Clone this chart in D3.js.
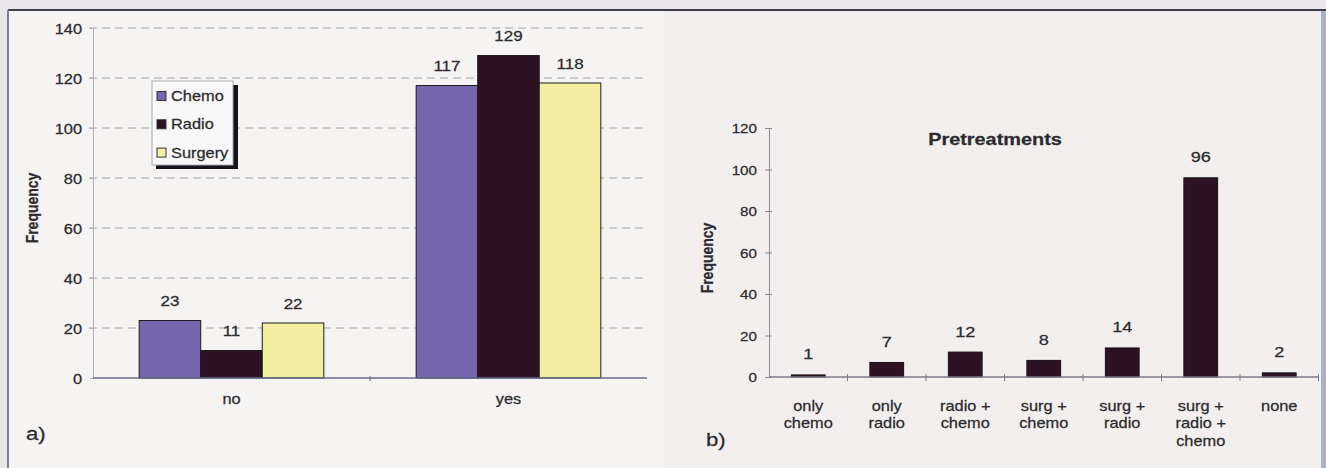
<!DOCTYPE html>
<html>
<head>
<meta charset="utf-8">
<script src="https://cdn.jsdelivr.net/npm/d3@7"></script>
<style>
  html, body { margin: 0; padding: 0; background: #ebe9eb; }
  svg { display: block; }
  text { font-family: "Liberation Sans", Arial, Helvetica, sans-serif; fill: #2b2b2f; stroke: #2b2b2f; stroke-width: 0.25px; }
</style>
</head>
<body>
<svg id="chart" width="1326" height="468"></svg>
<script>
// ---------- data ----------
const catsA = ["no", "yes"];
const seriesA = ["Chemo", "Radio", "Surgery"];
const chemoVals = [23, 117];
const radioVals = [11, 129];
const surgeryVals = [22, 118];
const yTicksA = [0, 20, 40, 60, 80, 100, 120, 140];

const catsB = ["only chemo", "only radio", "radio + chemo", "surg + chemo", "surg + radio", "surg + radio + chemo", "none"];
const catLinesB = [["only", "chemo"], ["only", "radio"], ["radio +", "chemo"], ["surg +", "chemo"], ["surg +", "radio"], ["surg +", "radio +", "chemo"], ["none"]];
const valsB = [1, 7, 12, 8, 14, 96, 2];
const yTicksB = [0, 20, 40, 60, 80, 100, 120];
const titleB = "Pretreatments";

const seriesColors = ["#7666ad", "#2c1222", "#f3efa2"];
const barColorB = "#2c1222";

// ---------- setup ----------
const SX = 1.17; // horizontal stretch of the scanned lettering
const svg = d3.select("#chart");

function txt(g, x, y, s, size, anchor, weight) {
  return g.append("text")
    .attr("transform", `translate(${x},${y}) scale(${SX},1)`)
    .attr("text-anchor", anchor || "start")
    .style("font-size", size + "px")
    .style("font-weight", weight || "normal")
    .text(s);
}

// background / frame
svg.append("rect").attr("x", 0).attr("y", 0).attr("width", 1326).attr("height", 468).attr("fill", "#e9e7ea");
svg.append("rect").attr("x", 8).attr("y", 10).attr("width", 656).attr("height", 458).attr("fill", "#f6f4f3");
svg.append("rect").attr("x", 664).attr("y", 10).attr("width", 662).attr("height", 458).attr("fill", "#f3efee");
svg.append("rect").attr("x", 1321).attr("y", 10).attr("width", 5).attr("height", 458).attr("fill", "#aab0cc");
svg.append("line").attr("x1", 8).attr("x2", 1326).attr("y1", 10).attr("y2", 10).attr("stroke", "#3e3e4c").attr("stroke-width", 2);
svg.append("line").attr("x1", 8).attr("x2", 8).attr("y1", 10).attr("y2", 468).attr("stroke", "#7a8096").attr("stroke-width", 2);

// ---------- chart a ----------
const gA = svg.append("g");
const yA = d3.scaleLinear().domain([0, 140]).range([378, 28]);
const x0 = d3.scaleBand().domain(catsA).range([93, 647]).padding(0);
const groupW = x0.bandwidth() * 2 / 3;
const x1 = d3.scaleBand().domain(seriesA).range([0, groupW]).padding(0);
const valsA = [chemoVals, radioVals, surgeryVals];

// gridlines
gA.append("g").selectAll("line").data(yTicksA.filter(d => d > 0)).join("line")
  .attr("x1", 89).attr("x2", 647)
  .attr("y1", d => yA(d)).attr("y2", d => yA(d))
  .attr("stroke", "#a4a4a8").attr("stroke-width", 1).attr("stroke-dasharray", "8,5");

// y axis
const axA = gA.append("g").attr("transform", "translate(93,0)")
  .call(d3.axisLeft(yA).tickValues(yTicksA).tickSize(3).tickPadding(8));
axA.select(".domain").attr("stroke", "#b0b0b6");
axA.selectAll(".tick line").attr("stroke", "#b0b0b6");
axA.selectAll(".tick text").attr("x", null).attr("dy", null)
  .attr("transform", `translate(-11,5) scale(${SX},1)`)
  .style("font-size", "14px").style("font-family", "'Liberation Sans', Arial, sans-serif")
  .attr("fill", "#2b2b2f").attr("stroke", "#2b2b2f").attr("stroke-width", 0.25);

// bars
seriesA.forEach((s, si) => {
  catsA.forEach((c, ci) => {
    const v = valsA[si][ci];
    const bx = x0(c) + x0.bandwidth() / 6 + x1(s);
    gA.append("rect")
      .attr("x", bx).attr("y", yA(v))
      .attr("width", x1.bandwidth()).attr("height", yA(0) - yA(v))
      .attr("fill", seriesColors[si]).attr("stroke", "#1e1a22").attr("stroke-width", 1);
    txt(gA, bx + x1.bandwidth() / 2, yA(v) - 14.5, String(v), 14.5, "middle");
  });
});

// x axis
gA.append("line").attr("x1", 93).attr("x2", 647).attr("y1", yA(0)).attr("y2", yA(0))
  .attr("stroke", "#646c88").attr("stroke-width", 1.5);
gA.append("g").selectAll("line").data([catsA[1]]).join("line")
  .attr("x1", d => x0(d)).attr("x2", d => x0(d))
  .attr("y1", yA(0) - 2).attr("y2", yA(0) + 3)
  .attr("stroke", "#646c88").attr("stroke-width", 1);
catsA.forEach(c => txt(gA, x0(c) + x0.bandwidth() / 2, 404, c, 14, "middle"));

// y title
gA.append("text")
  .attr("transform", `translate(38,208) scale(${SX},1) rotate(-90)`)
  .attr("text-anchor", "middle")
  .style("font-size", "14px").style("font-weight", "bold")
  .text("Frequency");

// legend
const lg = gA.append("g");
lg.append("rect").attr("x", 233).attr("y", 85).attr("width", 5).attr("height", 84).attr("fill", "#16141a");
lg.append("rect").attr("x", 156).attr("y", 165).attr("width", 82).attr("height", 4).attr("fill", "#16141a");
lg.append("rect").attr("x", 152).attr("y", 81).attr("width", 81).attr("height", 84)
  .attr("fill", "#f9f8f8").attr("stroke", "#a8a8b0").attr("stroke-width", 1);
seriesA.forEach((s, i) => {
  const cy = 96 + i * 28.3;
  lg.append("rect").attr("x", 157).attr("y", cy - 4.5).attr("width", 9).attr("height", 9)
    .attr("fill", seriesColors[i]).attr("stroke", "#333").attr("stroke-width", 1);
  txt(lg, 171, cy + 5, s, 14, "start");
});

// panel label
txt(gA, 26, 440, "a)", 19, "start");

// ---------- chart b ----------
const gB = svg.append("g");
const yB = d3.scaleLinear().domain([0, 120]).range([377, 128]);
const xB = d3.scaleBand().domain(catsB).range([769, 1318.5]).padding(0);
const bw = xB.bandwidth() * 0.43;

const axB = gB.append("g").attr("transform", "translate(769,0)")
  .call(d3.axisLeft(yB).tickValues(yTicksB).tickSizeInner(4).tickSizeOuter(0).tickPadding(8));
axB.select(".domain").attr("stroke", "#8a8a92");
axB.selectAll(".tick line").attr("stroke", "#8a8a92").attr("x2", -4).attr("x1", 3);
axB.selectAll(".tick text").attr("x", null).attr("dy", null)
  .attr("transform", `translate(-12,4.5) scale(${SX},1)`)
  .style("font-size", "13px").style("font-family", "'Liberation Sans', Arial, sans-serif")
  .attr("fill", "#2b2b2f").attr("stroke", "#2b2b2f").attr("stroke-width", 0.25);

gB.selectAll("rect.bar").data(catsB).join("rect").attr("class", "bar")
  .attr("x", d => xB(d) + (xB.bandwidth() - bw) / 2)
  .attr("y", (d, i) => yB(valsB[i]))
  .attr("width", bw)
  .attr("height", (d, i) => yB(0) - yB(valsB[i]))
  .attr("fill", barColorB).attr("stroke", "#1a1016").attr("stroke-width", 1);

catsB.forEach((c, i) => {
  txt(gB, xB(c) + xB.bandwidth() / 2, yB(valsB[i]) - 15.5, String(valsB[i]), 15.5, "middle");
  catLinesB[i].forEach((ln, li) => {
    txt(gB, xB(c) + xB.bandwidth() / 2, 411 + li * 17.4, ln, 14, "middle");
  });
});

// x axis with boundary ticks
gB.append("line").attr("x1", 769).attr("x2", 1318.5).attr("y1", yB(0)).attr("y2", yB(0))
  .attr("stroke", "#7a7a88").attr("stroke-width", 1.3);
gB.append("g").selectAll("line").data(catsB.slice(1).map(c => xB(c)).concat([xB.range()[1]])).join("line")
  .attr("x1", d => d).attr("x2", d => d)
  .attr("y1", yB(0) - 3).attr("y2", yB(0) + 4)
  .attr("stroke", "#7a7a88").attr("stroke-width", 1);

gB.append("text")
  .attr("transform", `translate(713,258) scale(${SX},1) rotate(-90)`)
  .attr("text-anchor", "middle")
  .style("font-size", "14px").style("font-weight", "bold")
  .text("Frequency");

txt(gB, 995, 145, titleB, 17, "middle", "bold");
txt(gB, 706, 446, "b)", 19, "start");
</script>
</body>
</html>
